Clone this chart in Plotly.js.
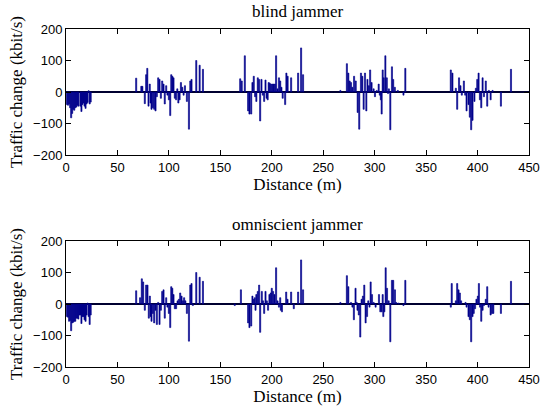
<!DOCTYPE html>
<html><head><meta charset="utf-8">
<script src="https://cdn.plot.ly/plotly-3.0.1.min.js"></script>
<style>html,body{margin:0;padding:0;background:#fff}#chart{width:542px;height:413px}</style>
</head><body><div id="chart"></div>
<script>
const subplotTitles = ["blind jammer", "omniscient jammer"];
const xTicks = [0, 50, 100, 150, 200, 250, 300, 350, 400, 450];
const yTicks = [-200, -100, 0, 100, 200];

const blindX = [1,2,3,4,5,6,7,8,9,10,11,12,14,15,16,17,18,19,20,21,22,23,24,
 68.2,73.2,74.2,76.6,77.9,79.0,80.2,81.4,82.2,83.1,84.4,85.7,87,88.3,89.6,90.9,92.2,93.5,94.8,96,97.4,98.6,100,101.3,102.3,103.4,104.5,105.8,107,108.2,109.2,110.4,111.7,113,114.3,115.6,117.5,119.5,120.8,122,126.6,129.9,133.1,
 169.3,170.8,173.8,177,178.3,180,181.2,182.5,183.8,185,186.4,187.7,188.7,190,191.3,192.6,193.9,195,196,197,198,199.2,200.5,201.8,203,204.2,205.6,207,208.2,209.4,210.6,213,214.2,215.4,218.8,225.6,228.5,230.4,
 266.7,273,274.4,275.7,277,278.3,280,281.6,283.5,285,286.7,288,289.3,290.6,291.9,293,294.3,295.6,297,299,300.3,302,303.9,305,306,306.8,307.8,308.8,310.4,311.8,313,313.8,315.2,316.8,318,319.6,322.5,328,329.8,
 374,375.6,378.9,380.2,382,383.4,384.7,386.7,388,389.3,391.2,392.5,393.8,395.1,397,398.4,399.7,401,402.3,403.6,404.9,406.2,408,409.4,411,412.7,414.6,422.7,432.5];
const blindY = [-40,-42,-38,-50,-82,-68,-55,-58,-50,-48,-42,-45,-45,-62,-40,-35,-45,-52,-38,-33,4,-38,-32,
 44,18,18,-37,55,75,-45,25,-35,-55,-50,-55,-60,-15,45,40,-20,35,25,-38,20,-10,-25,-75,55,50,45,-20,-25,10,-35,-25,30,15,-10,20,-30,-118,35,40,100,85,72,
 42,35,115,-60,-70,-70,30,50,-15,-30,45,40,-92,40,-10,-30,38,-20,-25,30,28,25,25,25,25,115,10,45,35,15,-20,-40,60,50,45,60,140,55,
 5,90,60,35,30,15,50,35,-65,-118,60,50,-55,60,-60,40,20,70,30,10,-15,5,25,-10,-25,-70,70,45,115,45,-5,10,-120,80,40,15,5,-10,75,
 70,60,12,-55,45,20,-10,35,-10,-60,-40,-80,-120,-90,-30,12,40,60,-25,-50,45,-15,35,-45,5,-25,5,-45,72];

const omniX = [1,2,3,4,5,6,7,8,9,10,11,12,13,14,15,16,17,18,19,20,21,22,23,24,
 68.2,72,73.7,75,76.6,77.9,79.2,80.5,81.5,82.2,83.1,84.4,85.7,87,88.3,89.6,90.9,92.2,93.5,94.8,96,97.4,98.6,100,101.3,102.3,103.3,104.5,105.8,107,108.4,109.7,111,112.3,113.6,114.8,116,117.5,119.5,120.8,122,123.3,126.6,129.9,133.1,164,
 170,177,178.3,180,181.2,182.5,183.5,184.2,185,186.4,187.7,188.7,190.3,191.5,192.6,193.9,195.2,196.4,197.7,199,200,201.3,202.6,204.2,205.6,207,208.2,208.8,209.9,214,215.3,218.8,221.4,225.6,228.5,230.4,
 266.7,273,274.4,277,278.4,279.8,281.4,282.5,283.3,284.6,286,287.3,288.6,289.9,291.2,292.6,293.8,295,296.1,297.4,299,300.9,304.2,305.5,306.8,307.8,308.4,309.4,310.7,312,313.6,315.2,316.8,318,319.7,321,323.3,328,329.8,
 374,374.9,378.9,380.2,381.5,382.8,384,388.3,389.3,391.2,392.5,393.8,395.1,396.3,397.6,398.9,400.3,401.3,402.4,403.6,404.9,406.2,408,409.4,410.7,412.7,414,415.3,422.7,432.5];
const omniY = [-40,-42,-55,-52,-85,-60,-58,-55,-55,-45,-45,-48,-35,-35,-62,-40,-40,-50,-55,-35,3,-40,-65,-35,
 42,20,80,70,-20,60,60,-45,25,-40,-55,-30,-60,-20,-65,5,-65,-20,40,45,-45,20,-10,-30,-75,55,50,30,-15,-15,10,15,35,25,10,20,10,-30,-118,60,65,-5,100,85,72,-5,
 45,-60,-75,-70,25,15,20,-20,30,40,60,-90,40,10,-30,40,10,-20,30,35,50,40,30,115,10,-10,20,-20,-25,38,15,38,-15,38,140,45,
 5,90,55,5,-10,-50,50,5,-20,-35,-105,15,25,60,-60,-40,10,-10,70,30,5,-10,30,-25,-25,30,-40,-25,115,50,10,-120,75,75,45,5,3,-5,75,
 -10,65,10,65,45,35,10,5,-10,-40,-50,-120,-40,-30,-15,15,25,65,-10,-55,-20,-5,15,55,-10,-35,-30,-30,-30,72];

const barColor = '#00008c';
function barTrace(x, y, xa, ya) {
  return {type: 'bar', x: x, y: y, xaxis: xa, yaxis: ya, width: 1.1,
    marker: {color: barColor, line: {color: barColor, width: 0.6}}, hoverinfo: 'skip', showlegend: false};
}

const serif = 'Liberation Serif, Times New Roman, serif';
const sans = 'Liberation Sans, Arial, sans-serif';

function xAxis(dom, anchor) {
  return {domain: dom, anchor: anchor, range: [0, 450], tickvals: xTicks, ticks: 'inside', ticklen: 5,
    showline: true, mirror: 'ticks', linecolor: '#000', linewidth: 1, tickcolor: '#000', showgrid: false, zeroline: false,
    tickfont: {family: sans, size: 13, color: '#000'},
    title: {text: 'Distance (m)', font: {family: serif, size: 17, color: '#000'}, standoff: 2}};
}
function yAxis(dom, anchor) {
  return {domain: dom, anchor: anchor, range: [-200, 200], tickvals: yTicks, ticks: 'inside', ticklen: 5,
    showline: true, mirror: 'ticks', linecolor: '#000', linewidth: 1, tickcolor: '#000', showgrid: false,
    zeroline: true, zerolinecolor: '#000030', zerolinewidth: 1.5,
    tickfont: {family: sans, size: 13, color: '#000'},
    title: {text: 'Traffic change (kbit/s)', font: {family: serif, size: 17, color: '#000'}, standoff: 6}};
}

const xd = [66/542, 529/542];
const layout = {
  width: 542, height: 413, margin: {l: 0, r: 0, t: 0, b: 0},
  paper_bgcolor: '#fff', plot_bgcolor: '#fff', bargap: 0, barmode: 'overlay',
  xaxis: xAxis(xd, 'y'), yaxis: yAxis([1 - 155/413, 1 - 29/413], 'x'),
  xaxis2: xAxis(xd, 'y2'), yaxis2: yAxis([1 - 367/413, 1 - 241/413], 'x2'),
  annotations: [
    {text: subplotTitles[0], xref: 'paper', yref: 'paper', x: 0.5 * (xd[0] + xd[1]), y: 1 - 12/413, xanchor: 'center', yanchor: 'middle', showarrow: false, font: {family: serif, size: 17, color: '#000'}},
    {text: subplotTitles[1], xref: 'paper', yref: 'paper', x: 0.5 * (xd[0] + xd[1]), y: 1 - 224/413, xanchor: 'center', yanchor: 'middle', showarrow: false, font: {family: serif, size: 17, color: '#000'}}
  ]
};
Plotly.newPlot('chart', [barTrace(blindX, blindY, 'x', 'y'), barTrace(omniX, omniY, 'x2', 'y2')], layout, {staticPlot: true, displayModeBar: false});
</script></body></html>
